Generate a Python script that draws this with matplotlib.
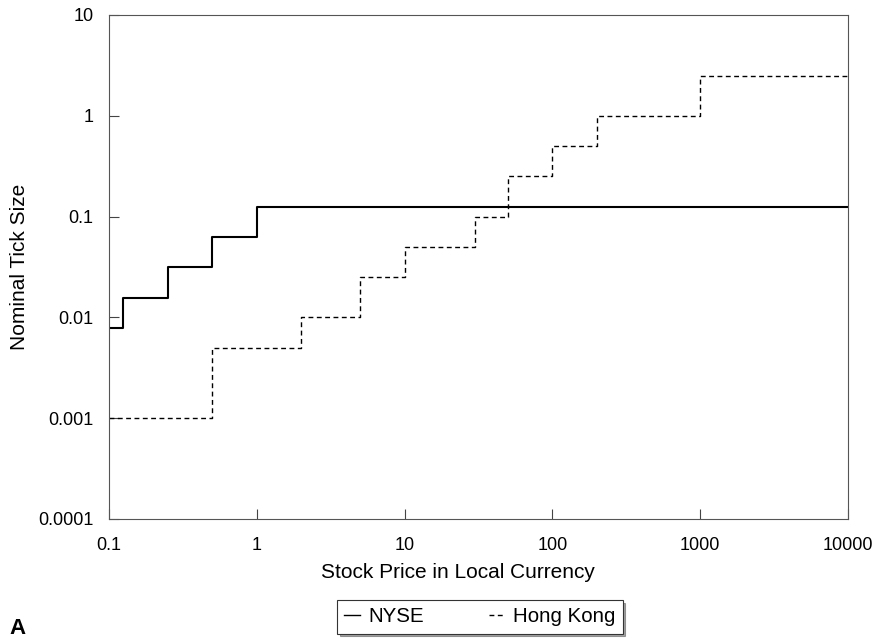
import matplotlib.pyplot as plt

plt.rcParams['font.family'] = ['Liberation Sans', 'DejaVu Sans']

# NYSE tick schedule (price breakpoints and tick size from that price on)
nyse_price = [0.1, 0.125, 0.25, 0.5, 1, 10000]
nyse_tick = [0.0078125, 0.015625, 0.03125, 0.0625, 0.125, 0.125]

# Hong Kong tick schedule
hk_price = [0.1, 0.5, 2, 5, 10, 30, 50, 100, 200, 1000, 10000]
hk_tick = [0.001, 0.005, 0.01, 0.025, 0.05, 0.1, 0.25, 0.5, 1, 2.5, 2.5]

x_ticks = [0.1, 1, 10, 100, 1000, 10000]
x_labels = ['0.1', '1', '10', '100', '1000', '10000']
y_ticks = [0.0001, 0.001, 0.01, 0.1, 1, 10]
y_labels = ['0.0001', '0.001', '0.01', '0.1', '1', '10']

fig = plt.figure(figsize=(8.79, 6.4), dpi=100)
ax = fig.add_axes([0.124, 0.1891, 0.8407, 0.7875])

ax.step(nyse_price, nyse_tick, where='post', color='black', linewidth=1.5, label='NYSE')
ax.step(hk_price, hk_tick, where='post', color='black', linewidth=1.0,
        linestyle=(0, (3.5, 2.5)), label='Hong Kong')

ax.set_xscale('log')
ax.set_yscale('log')
ax.set_xlim(0.1, 10000)
ax.set_ylim(0.0001, 10)

ax.set_xticks(x_ticks, x_labels)
ax.set_yticks(y_ticks, y_labels)
ax.minorticks_off()
ax.tick_params(axis='both', direction='in', labelsize=13, length=7,
               width=0.8, color='#444444')
ax.tick_params(axis='y', pad=11)
ax.tick_params(axis='x', pad=13)

for s in ax.spines.values():
    s.set_color('#555555')
    s.set_linewidth(0.8)

ax.set_xlabel('Stock Price in Local Currency', fontsize=15, labelpad=5)
ax.xaxis.set_label_coords(0.472, -0.088)
ax.set_ylabel('Nominal Tick Size', fontsize=15, labelpad=7)

leg = fig.legend(loc='center', bbox_to_anchor=(0.546, 0.036), ncol=2,
                 fontsize=14.8, frameon=True, fancybox=False, shadow=True,
                 edgecolor='#333333', handlelength=0.75, handletextpad=0.4,
                 columnspacing=3.2, borderpad=0.35, borderaxespad=0)
leg.get_frame().set_linewidth(0.8)
for line in leg.get_lines():
    line.set_linewidth(1.0)

fig.text(0.011, 0.01, 'A', fontsize=16, fontweight='bold', va='baseline')

fig.savefig('out.png', dpi=100)
